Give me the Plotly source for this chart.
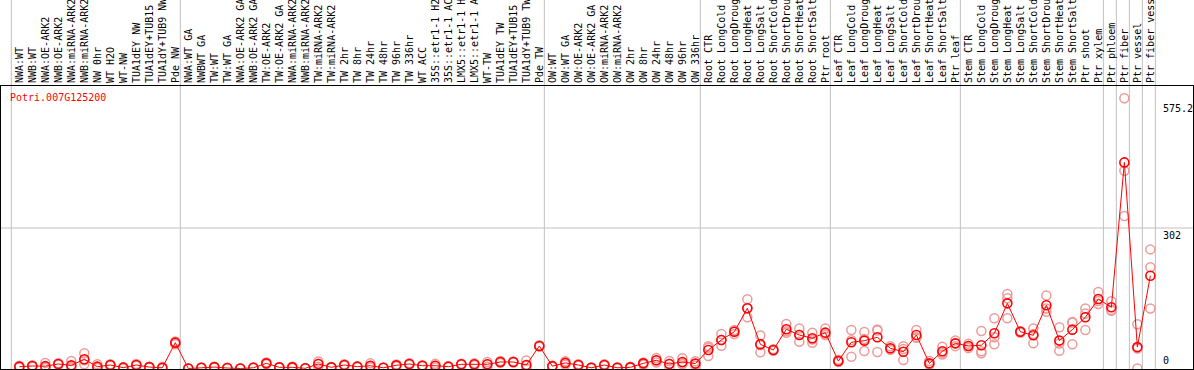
import plotly.graph_objects as go

categories = [
    "NWA:WT", "NWB:WT", "NWA:OE-ARK2", "NWB:OE-ARK2", "NWA:miRNA-ARK2", "NWB:miRNA-ARK2",
    "NW 0hr", "WT H2O", "WT-NW", "TUA1dEY NW", "TUA1dEY+TUB15 NW", "TUA1dY+TUB9 NW", "Pde NW",
    "NWA:WT GA", "NWBWT GA", "TW:WT", "TW:WT GA", "NWA:OE-ARK2 GA", "NWB:OE-ARK2 GA",
    "TW:OE-ARK2", "TW:OE-ARK2 GA", "NWA:miRNA-ARK2", "NWB:miRNA-ARK2", "TW:miRNA-ARK2",
    "TW:miRNA-ARK2", "TW 2hr", "TW 8hr", "TW 24hr", "TW 48hr", "TW 96hr", "TW 336hr",
    "WT ACC", "35S::etr1-1 H2O", "35S::etr1-1 ACC", "LMX5::etr1-1 H2O", "LMX5::etr1-1 ACC",
    "WT-TW", "TUA1dEY TW", "TUA1dEY+TUB15 TW", "TUA1dY+TUB9 TW", "Pde TW",
    "OW:WT", "OW:WT GA", "OW:OE-ARK2", "OW:OE-ARK2 GA", "OW:miRNA-ARK2", "OW:miRNA-ARK2",
    "OW 2hr", "OW 8hr", "OW 24hr", "OW 48hr", "OW 96hr", "OW 336hr",
    "Root CTR", "Root LongCold", "Root LongDrought", "Root LongHeat", "Root LongSalt",
    "Root ShortCold", "Root ShortDrought", "Root ShortHeat", "Root ShortSalt", "Ptr root",
    "Leaf CTR", "Leaf LongCold", "Leaf LongDrought", "Leaf LongHeat", "Leaf LongSalt",
    "Leaf ShortCold", "Leaf ShortDrought", "Leaf ShortHeat", "Leaf ShortSalt", "Ptr leaf",
    "Stem CTR", "Stem LongCold", "Stem LongDrought", "Stem LongHeat", "Stem LongSalt",
    "Stem ShortCold", "Stem ShortDrought", "Stem ShortHeat", "Stem ShortSalt", "Ptr shoot",
    "Ptr xylem", "Ptr phloem", "Ptr fiber", "Ptr vessel", "Ptr fiber vessel",
]

mean_values = [
    3.9, 5.4, 5.0, 9.7, 6.8, 19.7, 3.9, 7.5, 1.8, 7.5, 3.0, 1.5, 55.5,
    0.0, 1.5, 3.0, 1.0, 0.0, 1.5, 11.0, 2.5, 2.5, 0.4, 9.7, 2.5, 7.5, 3.9, 6.0,
    1.5, 6.8, 9.7, 6.0, 6.0, 3.9, 9.0, 9.0, 9.0, 14.0, 14.0, 7.5, 48.4,
    5.0, 12.0, 7.5, 1.5, 7.5, 1.5, 2.5, 11.0, 17.6, 9.7, 14.0, 10.5,
    39.8, 61.3, 79.0, 129.4, 52.0, 39.8, 84.2, 72.0, 65.0, 77.0,
    16.0, 56.3, 59.8, 67.0, 43.4, 36.0, 72.0, 11.0, 37.0, 54.0,
    48.4, 50.0, 75.7, 140.0, 79.0, 71.3, 136.0, 60.0, 83.5, 110.0,
    149.4, 131.5, 443.0, 46.0, 199.5,
]

rep_a = [
    2, 4, 1, 8, 2, 32.6, 1, 6, 0.5, 6, 2, 0, 52,
    0, 1, 2, 0.5, 0, 1, 9, 2, 1, 0, 4, 2, 6, 3, 2,
    1, 5, 8, 5, 2, 3, 8, 7, 4, 12, 13, 0, 47,
    4, 8, 6, 0.5, 6, 0.5, 1.5, 8, 13, 3, 9, 6,
    48, 74, 74, 148.7, 71, 38, 95.6, 86, 77, 86,
    19, 82.8, 78.5, 84, 48, 48, 82.8, 16, 47, 60,
    53, 80.6, 108, 160, 80, 86, 157, 88.5, 100, 129,
    164.4, 144.5, 581, 95, 256,
]
rep_b = [
    4, 5, 2, 10, 3, 9, 1.5, 7.5, 2, 7, 3, 0.5, 56,
    0, 1.5, 3, 1, 0, 1.5, 11, 2.5, 2, 0.4, 10, 2.5, 7.5, 4, 5,
    1.5, 7, 10, 6, 6, 4, 9, 9, 9, 14, 14, 6, 48,
    5, 12, 7.5, 1.5, 7.5, 1.5, 2.5, 11, 17, 10, 11, 10,
    27, 49, 80, 110, 34.8, 40, 77, 57.6, 55.5, 72,
    14, 25.4, 37.6, 35.5, 40, 18.3, 66, 8, 30, 48,
    44, 32.6, 52, 151, 77, 54, 122, 38, 52, 82.8,
    138.6, 124, 425, 0, 217.5,
]
rep_c = [
    6, 7, 12, 11, 16, 17.5, 9, 9, 3, 9.5, 4, 4, 58,
    0, 2, 4, 1.5, 0, 2, 13, 3, 4.5, 0.8, 15, 3, 9, 5, 11,
    2, 8.5, 11, 7, 10, 5, 10, 11, 14, 16, 15, 17, 50,
    6, 15.5, 9, 2.5, 9, 2.5, 3.5, 13, 22.5, 16, 22, 15.5,
    44.4, 61, 83, 129.5, 50, 41.5, 80, 72.4, 62.5, 73,
    15, 60.7, 63.3, 81.5, 42.2, 41.7, 67.2, 9, 34, 54,
    48.2, 36.8, 67, 108, 80, 74, 129, 53.5, 98.5, 118.2,
    145.2, 126, 328, 43, 129,
]

gene_id = "Potri.007G125200"
y_tick_values = [575.2, 302, 0]
group_starts = [0, 13, 41, 53, 63, 73, 84, 85, 86, 87, 88]

positions = list(range(len(categories)))
mono = "DejaVu Sans Mono"

fig = go.Figure()

rep_x = positions * 3
rep_y = rep_a + rep_b + rep_c
fig.add_trace(go.Scatter(
    x=rep_x, y=rep_y, mode="markers",
    marker=dict(symbol="circle-open", size=9, color="#EE9A9A", line=dict(width=1.5, color="#EE9A9A")),
    hoverinfo="skip", showlegend=False, cliponaxis=False,
))
fig.add_trace(go.Scatter(
    x=positions, y=mean_values, mode="lines+markers",
    line=dict(color="#FF0000", width=1),
    marker=dict(symbol="circle-open", size=9, color="#FF0000", line=dict(width=1.6, color="#FF0000")),
    showlegend=False, cliponaxis=False,
))

shapes = []
for b in group_starts:
    shapes.append(dict(type="line", xref="x", yref="paper", x0=b - 0.615, x1=b - 0.615,
                       y0=0, y1=1.35, line=dict(color="#C0C0C0", width=1), layer="below"))
shapes.append(dict(type="line", xref="paper", yref="y", x0=0, x1=1, y0=302, y1=302,
                   line=dict(color="#C0C0C0", width=1), layer="below"))
fig.update_layout(shapes=shapes)

annotations = [dict(text=gene_id, xref="paper", yref="paper", x=0.0, y=1.0, xanchor="left",
                    yanchor="top", xshift=7, yshift=-4, showarrow=False,
                    font=dict(family=mono, size=10, color="#FF0000"))]
for v in y_tick_values:
    annotations.append(dict(text=str(v), xref="paper", yref="y", x=1.0, y=v,
                            xanchor="left", yanchor="bottom" if v == 0 else "top",
                            xshift=-32, showarrow=False,
                            font=dict(family=mono, size=10, color="#000000")))
fig.update_layout(annotations=annotations)

fig.update_layout(
    width=1194, height=370,
    margin=dict(l=1, r=1, t=86, b=1, pad=0),
    paper_bgcolor="white", plot_bgcolor="white",
    hovermode=False,
    xaxis=dict(
        range=[-1.408, 90.28], side="top", tickmode="array", tickvals=positions,
        ticktext=categories, tickangle=-90, automargin=False, showgrid=False, zeroline=False,
        tickfont=dict(family=mono, size=10, color="#000000"),
        showline=True, linecolor="#000000", linewidth=1, mirror=True, ticks="",
    ),
    yaxis=dict(
        range=[-1.1, 607.3], showgrid=False, zeroline=False, showticklabels=False,
        showline=True, linecolor="#000000", linewidth=1, mirror=True, ticks="",
    ),
)

fig.write_html("out.html", config={"displayModeBar": False},
               post_script="document.body.style.margin='0';")
